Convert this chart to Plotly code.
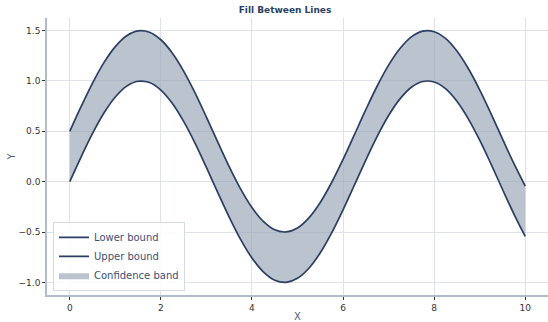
import plotly.graph_objects as go

x_vals = [0.0, 0.25, 0.5, 0.75, 1.0, 1.25, 1.5, 1.75, 2.0, 2.25, 2.5, 2.75, 3.0, 3.25,
          3.5, 3.75, 4.0, 4.25, 4.5, 4.75, 5.0, 5.25, 5.5, 5.75, 6.0, 6.25, 6.5, 6.75,
          7.0, 7.25, 7.5, 7.75, 8.0, 8.25, 8.5, 8.75, 9.0, 9.25, 9.5, 9.75, 10.0]
lower = [0.000, 0.247, 0.479, 0.682, 0.841, 0.949, 0.997, 0.984, 0.909, 0.778, 0.598, 0.382, 0.141, -0.108,
         -0.351, -0.572, -0.757, -0.895, -0.978, -0.999, -0.959, -0.859, -0.706, -0.508, -0.279, -0.033,
         0.215, 0.450, 0.657, 0.822, 0.938, 0.995, 0.989, 0.923, 0.798, 0.624, 0.412, 0.174, -0.075, -0.319, -0.544]
upper = [0.500, 0.747, 0.979, 1.182, 1.341, 1.449, 1.497, 1.484, 1.409, 1.278, 1.098, 0.882, 0.641, 0.392,
         0.149, -0.072, -0.257, -0.395, -0.478, -0.499, -0.459, -0.359, -0.206, -0.008, 0.221, 0.467,
         0.715, 0.950, 1.157, 1.322, 1.438, 1.495, 1.489, 1.423, 1.298, 1.124, 0.912, 0.674, 0.425, 0.181, -0.044]

x_ticks = [0, 2, 4, 6, 8, 10]
y_ticks = [-1.0, -0.5, 0.0, 0.5, 1.0, 1.5]

LINE = "#2b3f63"
BAND = "rgba(150,163,182,0.65)"
GRID = "#dfe2ea"
SPINE = "#b0bccd"
LABEL = "#4a5e85"
FONT = "DejaVu Sans"

fig = go.Figure()

# band: invisible lower edge, then upper edge filled down to it
fig.add_trace(go.Scatter(x=x_vals, y=lower, mode="lines", line=dict(width=0, shape="spline"),
                         showlegend=False, hoverinfo="skip"))
fig.add_trace(go.Scatter(x=x_vals, y=upper, mode="lines", line=dict(width=0, shape="spline"),
                         fill="tonexty", fillcolor=BAND, name="Confidence band", legendrank=3))

fig.add_trace(go.Scatter(x=x_vals, y=lower, mode="lines", name="Lower bound", legendrank=1,
                         line=dict(color=LINE, width=1.7, shape="spline")))
fig.add_trace(go.Scatter(x=x_vals, y=upper, mode="lines", name="Upper bound", legendrank=2,
                         line=dict(color=LINE, width=1.7, shape="spline")))

fig.update_layout(
    width=548, height=322,
    margin=dict(l=47, r=0, t=18, b=27),
    paper_bgcolor="white", plot_bgcolor="white",
    font=dict(family=FONT, size=9, color="#333333"),
    title=dict(text="<b>Fill Between Lines</b>", x=285 / 548, xref="container", xanchor="center",
               y=1 - 10 / 322, yref="container", yanchor="middle",
               font=dict(family=FONT, size=9, color="#2b3f63")),
    legend=dict(x=0.012, y=0.015, xanchor="left", yanchor="bottom",
                bgcolor="rgba(255,255,255,0.85)", bordercolor="#d5d9e0", borderwidth=1,
                font=dict(family=FONT, size=10, color="#3d5075"),
                traceorder="normal", tracegroupgap=0),
    showlegend=True,
    annotations=[dict(text="Y", xref="paper", yref="paper", x=-0.07, y=0.5,
                      xanchor="center", yanchor="middle", textangle=-90, showarrow=False,
                      font=dict(family=FONT, size=10, color=LABEL))],
)

fig.update_xaxes(
    range=[-0.5, 10.5], tickvals=x_ticks, ticktext=[str(v) for v in x_ticks],
    showgrid=True, gridcolor=GRID, gridwidth=1, zeroline=False, automargin=False,
    showline=True, linecolor=SPINE, linewidth=1.5, mirror=False,
    ticks="outside", ticklen=3, tickcolor="#333333", tickwidth=1,
    title=dict(text="X", font=dict(family=FONT, size=10, color=LABEL), standoff=2),
)
fig.update_yaxes(
    range=[-1.125, 1.625], tickvals=y_ticks, ticktext=["\u22121.0", "\u22120.5", "0.0", "0.5", "1.0", "1.5"],
    showgrid=True, gridcolor=GRID, gridwidth=1, zeroline=False, automargin=False,
    showline=True, linecolor=SPINE, linewidth=1.5, mirror=False,
    ticks="outside", ticklen=3, tickcolor="#333333", tickwidth=1,
)

fig.write_html("out.html")
